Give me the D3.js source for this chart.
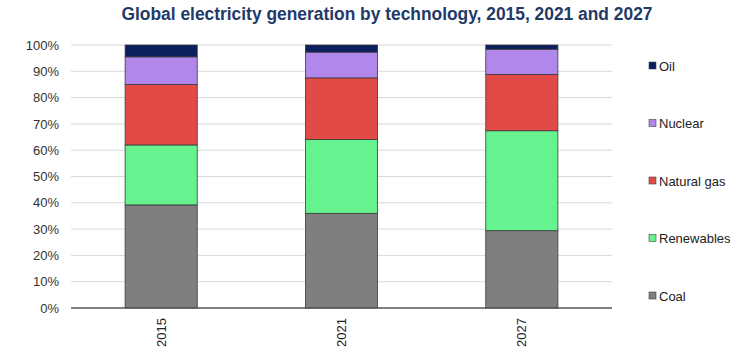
<!DOCTYPE html>
<html>
<head>
<meta charset="utf-8">
<script src="https://cdn.jsdelivr.net/npm/d3@7"></script>
<style>
  html, body { margin: 0; padding: 0; background: #fff; }
  svg { display: block; font-family: "Liberation Sans", Arial, sans-serif; }
</style>
</head>
<body>
<svg id="chart" width="752" height="364"></svg>
<script>
const years = ["2015", "2021", "2027"];
const seriesNames = ["Coal", "Renewables", "Natural gas", "Nuclear", "Oil"];
const coal = [39.2, 36.0, 29.4];
const renewables = [22.8, 28.1, 38.0];
const naturalGas = [23.0, 23.4, 21.4];
const nuclear = [10.5, 9.8, 9.6];
const oil = [4.5, 2.7, 1.6];
const yTicks = [0, 10, 20, 30, 40, 50, 60, 70, 80, 90, 100];
const colors = ["#7f7f7f", "#66f28f", "#e24a47", "#b187ec", "#0b1f5e"];

const seriesValues = [coal, renewables, naturalGas, nuclear, oil];
const rows = years.map((yr, i) => {
  const r = { year: yr };
  seriesNames.forEach((s, j) => r[s] = seriesValues[j][i]);
  return r;
});

const svg = d3.select("#chart");
const mLeft = 71, mRight = 612, mTop = 45, mBottom = 308;

const x = d3.scaleBand().domain(years).range([mLeft, mRight]).paddingInner(0.6).paddingOuter(0.3);
const y = d3.scaleLinear().domain([0, 100]).range([mBottom, mTop]);

// title
svg.append("text")
  .attr("x", 387).attr("y", 20)
  .attr("text-anchor", "middle")
  .attr("font-size", 18).attr("font-weight", "bold")
  .attr("fill", "#1f3a68")
  .attr("textLength", 531).attr("lengthAdjust", "spacingAndGlyphs")
  .text("Global electricity generation by technology, 2015, 2021 and 2027");

// gridlines
svg.append("g").selectAll("line").data(yTicks.filter(t => t > 0)).join("line")
  .attr("x1", mLeft).attr("x2", mRight)
  .attr("y1", d => y(d)).attr("y2", d => y(d))
  .attr("stroke", "#d9d9d9").attr("stroke-width", 1);

// y axis labels
const yAxis = d3.axisLeft(y).tickValues(yTicks).tickFormat(d => d + "%").tickSize(0).tickPadding(12);
const ya = svg.append("g").attr("transform", `translate(${mLeft},0)`).call(yAxis);
ya.select(".domain").remove();
ya.selectAll("text").attr("font-size", 13).attr("fill", "#333").attr("font-family", "'Liberation Sans', Arial, sans-serif");

// stacked bars
const stack = d3.stack().keys(seriesNames)(rows);
svg.append("g").selectAll("g").data(stack).join("g")
  .attr("fill", (d, i) => colors[i])
  .selectAll("rect").data(d => d).join("rect")
  .attr("x", d => x(d.data.year))
  .attr("width", x.bandwidth())
  .attr("y", d => y(d[1]))
  .attr("height", d => y(d[0]) - y(d[1]))
  .attr("stroke", "#3a3a3a").attr("stroke-width", 0.8);

// x axis
const xAxis = d3.axisBottom(x).tickSize(0).tickPadding(0);
const xa = svg.append("g").attr("transform", `translate(0,${mBottom})`).call(xAxis);
xa.select(".domain").attr("stroke", "#555").attr("stroke-width", 1.5).attr("d", `M${mLeft},0H${mRight}`);
xa.selectAll("text")
  .attr("font-size", 13).attr("fill", "#222").attr("font-family", "'Liberation Sans', Arial, sans-serif")
  .attr("transform", "rotate(-90)")
  .attr("text-anchor", "end")
  .attr("x", -10).attr("y", 0).attr("dy", "0.35em");

// legend
const legendOrder = ["Oil", "Nuclear", "Natural gas", "Renewables", "Coal"];
const lg = svg.append("g").selectAll("g").data(legendOrder).join("g")
  .attr("transform", (d, i) => `translate(649,${66 + i * 57.5})`);
lg.append("rect")
  .attr("x", 0).attr("y", -4).attr("width", 7).attr("height", 7)
  .attr("fill", d => colors[seriesNames.indexOf(d)])
  .attr("stroke", "#444").attr("stroke-width", 0.6);
lg.append("text")
  .attr("x", 10).attr("y", 0).attr("dy", "0.35em")
  .attr("font-size", 13).attr("fill", "#222")
  .text(d => d);
</script>
</body>
</html>
